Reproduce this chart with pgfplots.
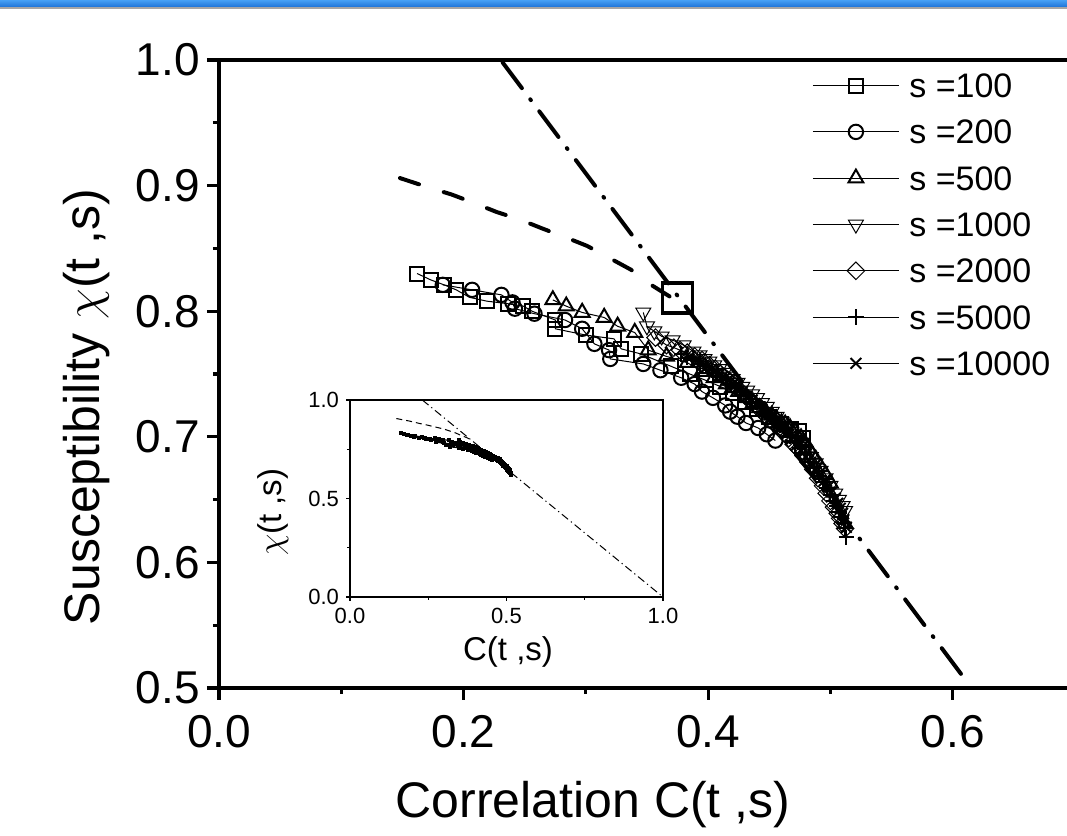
\documentclass[border=0pt]{standalone}
\usepackage{pgfplots}
\pgfplotsset{compat=1.18}
\usepackage{pgfplotstable}
\usepackage{fontspec}
\setmainfont{Liberation Sans}

\pgfplotstableread{
C chi
0.162 0.830
0.173 0.825
0.184 0.821
0.194 0.817
0.205 0.811
0.219 0.808
0.236 0.806
0.249 0.804
0.256 0.800
0.275 0.793
0.275 0.786
0.300 0.781
0.323 0.778
0.329 0.770
0.345 0.766
0.370 0.756
0.385 0.750
0.398 0.745
0.410 0.740
0.420 0.735
0.430 0.728
0.440 0.722
0.450 0.716
0.460 0.710
0.468 0.706
0.474 0.705
0.478 0.699
0.477 0.692
}\sA

\pgfplotstableread{
C chi
0.183 0.821
0.207 0.817
0.231 0.813
0.240 0.807
0.242 0.802
0.258 0.798
0.283 0.793
0.297 0.786
0.307 0.774
0.319 0.769
0.320 0.762
0.347 0.758
0.361 0.753
0.378 0.747
0.389 0.742
0.395 0.736
0.404 0.731
0.414 0.725
0.418 0.720
0.424 0.716
0.431 0.711
0.441 0.707
0.448 0.702
0.455 0.697
}\sB

\pgfplotstableread{
C chi
0.273 0.809
0.284 0.804
0.297 0.799
0.315 0.795
0.326 0.788
0.340 0.783
0.351 0.769
0.366 0.764
0.383 0.759
0.395 0.752
0.405 0.747
0.415 0.742
0.420 0.739
0.425 0.736
0.431 0.731
0.437 0.727
0.442 0.723
0.447 0.720
0.452 0.717
0.456 0.714
0.460 0.711
0.463 0.710
0.467 0.707
0.471 0.704
0.476 0.699
0.479 0.695
0.482 0.691
0.485 0.686
0.488 0.682
0.492 0.676
0.496 0.670
0.500 0.663
}\sC

\pgfplotstableread{
C chi
0.347 0.799
0.350 0.788
0.356 0.784
0.362 0.780
0.371 0.777
0.380 0.773
0.388 0.768
0.393 0.765
0.397 0.762
0.401 0.760
0.405 0.757
0.409 0.754
0.413 0.751
0.417 0.748
0.420 0.746
0.424 0.743
0.428 0.740
0.432 0.737
0.436 0.734
0.440 0.731
0.444 0.727
0.448 0.724
0.452 0.720
0.456 0.716
0.460 0.712
0.464 0.708
0.468 0.704
0.472 0.699
0.476 0.694
0.480 0.689
0.484 0.684
0.488 0.679
0.492 0.673
0.496 0.667
0.500 0.661
0.504 0.655
0.507 0.650
0.510 0.645
0.512 0.641
}\sD

\pgfplotstableread{
C chi
0.357 0.779
0.366 0.773
0.372 0.771
0.377 0.769
0.383 0.767
0.389 0.764
0.395 0.761
0.401 0.757
0.406 0.754
0.410 0.750
0.414 0.747
0.418 0.744
0.422 0.740
0.426 0.737
0.430 0.733
0.434 0.729
0.438 0.726
0.442 0.722
0.446 0.718
0.450 0.714
0.454 0.711
0.458 0.707
0.462 0.703
0.466 0.699
0.470 0.694
0.474 0.690
0.478 0.685
0.482 0.680
0.486 0.674
0.490 0.667
0.494 0.661
0.497 0.655
0.500 0.649
0.503 0.644
0.506 0.639
0.508 0.635
0.510 0.631
0.512 0.627
}\sE

\pgfplotstableread{
C chi
0.378 0.766
0.383 0.763
0.388 0.761
0.393 0.758
0.398 0.756
0.403 0.753
0.407 0.751
0.411 0.748
0.415 0.745
0.419 0.742
0.423 0.739
0.427 0.736
0.431 0.733
0.435 0.730
0.439 0.727
0.443 0.723
0.447 0.720
0.451 0.716
0.455 0.713
0.459 0.709
0.463 0.705
0.467 0.700
0.471 0.696
0.475 0.691
0.479 0.686
0.483 0.680
0.487 0.675
0.491 0.669
0.494 0.664
0.497 0.659
0.500 0.654
0.503 0.649
0.505 0.645
0.507 0.640
0.509 0.636
0.511 0.631
0.512 0.627
0.513 0.620
}\sF

\pgfplotstableread{
C chi
0.385 0.764
0.390 0.761
0.394 0.759
0.399 0.756
0.403 0.754
0.408 0.751
0.412 0.748
0.416 0.745
0.420 0.742
0.424 0.739
0.428 0.736
0.432 0.732
0.436 0.729
0.440 0.725
0.444 0.722
0.448 0.718
0.452 0.715
0.456 0.711
0.460 0.707
0.464 0.702
0.468 0.698
0.472 0.693
0.476 0.689
0.480 0.684
0.484 0.679
0.488 0.674
0.491 0.669
0.495 0.665
0.498 0.660
0.501 0.656
0.504 0.651
0.506 0.647
0.508 0.643
0.510 0.639
0.511 0.634
0.513 0.628
}\sG

\pgfplotstableread{
C chi
0.148 0.906
0.173 0.898
0.190 0.893
0.209 0.886
0.227 0.879
0.246 0.873
0.264 0.866
0.283 0.859
0.301 0.852
0.320 0.842
0.337 0.833
0.355 0.820
0.373 0.809
0.380 0.803
}\fitdash

\pgfplotstableread{
C chi
0.232 0.998
0.607 0.511
}\fdtmain

\pgfplotstableread{
C chi
0.231 1.000
1.000 0.000
}\fdtinset

\pgfplotsset{
  ser/.style={black, line width=0.5pt, mark options={solid, line width=1pt, fill=none}},
}

\begin{document}
\begin{tikzpicture}
\path[use as bounding box] (0pt,0pt) rectangle (533.5pt,418pt);
\clip (0pt,0pt) rectangle (533.5pt,418pt);
\shade[top color={rgb,255:red,70;green,160;blue,245}, bottom color={rgb,255:red,30;green,115;blue,215}] (0pt,414.5pt) rectangle (533.5pt,418pt);
\fill[black!35] (0pt,413.6pt) rectangle (533.5pt,414.5pt);

\begin{axis}[
  at={(109.5pt,74pt)}, anchor=south west, scale only axis,
  width=424pt, height=314pt,
  xmin=0, xmax=0.6935, ymin=0.5, ymax=1.0,
  clip=false,
  axis lines=left, axis line style={-, line width=2pt, black},
  xtick={0,0.2,0.4,0.6}, minor xtick={0.1,0.3,0.5},
  ytick={0.5,0.6,0.7,0.8,0.9,1.0}, minor ytick={0.55,0.65,0.75,0.85,0.95},
  tick align=outside, major tick length=6pt, minor tick length=3pt,
  every tick/.style={black, line width=1.6pt},
  /pgf/number format/assume math mode=true,
  /pgf/number format/fixed, /pgf/number format/fixed zerofill, /pgf/number format/precision=1,
  tick label style={font=\fontsize{23}{23}\selectfont},
  xticklabel style={yshift=-4pt},
  xlabel={Correlation C(t ,s)},
  ylabel={Susceptibility $\chi$(t ,s)},
  every axis x label/.style={at={(rel axis cs:0.441,0)}, yshift=-58.5pt, anchor=center, font=\fontsize{25}{25}\selectfont},
  every axis y label/.style={at={(rel axis cs:0,0.4475)}, xshift=-66pt, rotate=90, anchor=center, font=\fontsize{25}{25}\selectfont},
  legend style={draw=none, fill=none, at={(rel axis cs:0.6993,0.979)}, anchor=north west,
    inner sep=0pt, row sep=11.15pt, column sep=5pt, font=\fontsize{17}{17}\selectfont,
    nodes={inner sep=0pt, text height=12pt, text depth=0pt}},
  legend cell align=left,
  legend image code/.code={\draw[mark repeat=2,mark phase=2,#1] plot coordinates {(0pt,0pt) (21.5pt,0pt) (43pt,0pt)};},
]
\draw[line width=2pt] (rel axis cs:0,1) -- (rel axis cs:1,1);

\addplot[forget plot, black, line width=2pt, line cap=round, dash pattern=on 16pt off 7pt on 0.5pt off 7pt] table[x=C,y=chi] {\fdtmain};
\addplot[forget plot, black, line width=2pt, line cap=round, dash pattern=on 10pt off 13pt] table[x=C,y=chi] {\fitdash};
\addplot[forget plot, only marks, black, mark=square, mark size=7.5pt, mark options={line width=1.6pt}] coordinates {(0.375,0.8105)};

\addplot[ser, mark=square, mark size=3.5pt] table[x=C,y=chi] {\sA};
\addlegendentry{s =100}
\addplot[ser, mark=o, mark size=3.6pt] table[x=C,y=chi] {\sB};
\addlegendentry{s =200}
\addplot[ser, mark=triangle, mark size=4.3pt] table[x=C,y=chi] {\sC};
\addlegendentry{s =500}
\addplot[ser, mark=triangle, mark size=4.3pt, mark options={rotate=180}] table[x=C,y=chi] {\sD};
\addlegendentry{s =1000}
\addplot[ser, mark=square, mark size=3.1pt, mark options={rotate=45}] table[x=C,y=chi] {\sE};
\addlegendentry{s =2000}
\addplot[ser, mark=+, mark size=3.8pt] table[x=C,y=chi] {\sF};
\addlegendentry{s =5000}
\addplot[ser, mark=x, mark size=3.8pt] table[x=C,y=chi] {\sG};
\addlegendentry{s =10000}
\end{axis}

\begin{axis}[
  at={(175pt,119.5pt)}, anchor=south west, scale only axis,
  width=156.5pt, height=98.5pt,
  xmin=0, xmax=1, ymin=0, ymax=1,
  axis line style={line width=0.7pt, black},
  xtick={0,0.5,1}, minor xtick={0.25,0.75},
  ytick={0,0.5,1}, minor ytick={0.25,0.75},
  tick pos=left, tick align=outside, major tick length=2pt, minor tick length=1.5pt,
  every tick/.style={black, line width=0.6pt},
  /pgf/number format/assume math mode=true,
  /pgf/number format/fixed, /pgf/number format/fixed zerofill, /pgf/number format/precision=1,
  tick label style={font=\fontsize{11}{11}\selectfont},
  xlabel={C(t ,s)},
  ylabel={$\chi$(t ,s)},
  every axis x label/.style={at={(rel axis cs:0.505,0)}, yshift=-27.5pt, anchor=center, font=\fontsize{16.5}{16.5}\selectfont},
  every axis y label/.style={at={(rel axis cs:0,0.43)}, xshift=-38.5pt, rotate=90, anchor=center, font=\fontsize{16.5}{16.5}\selectfont},
]
\addplot[black, line width=0.5pt, dash pattern=on 4pt off 1.8pt on 0.6pt off 1.8pt] table[x=C,y=chi] {\fdtinset};
\addplot[black, line width=0.5pt, dash pattern=on 3pt off 2pt] table[x=C,y=chi] {\fitdash};
\addplot[black, line width=0.6pt, mark=square*, mark size=0.7pt] table[x=C,y=chi] {\sA};
\addplot[black, line width=0.6pt, mark=square*, mark size=0.7pt] table[x=C,y=chi] {\sB};
\addplot[black, line width=0.6pt, mark=square*, mark size=0.7pt] table[x=C,y=chi] {\sC};
\addplot[black, line width=0.6pt, mark=square*, mark size=0.7pt] table[x=C,y=chi] {\sD};
\addplot[black, line width=0.6pt, mark=square*, mark size=0.7pt] table[x=C,y=chi] {\sE};
\addplot[black, line width=0.6pt, mark=square*, mark size=0.7pt] table[x=C,y=chi] {\sF};
\addplot[black, line width=0.6pt, mark=square*, mark size=0.7pt] table[x=C,y=chi] {\sG};
\end{axis}
\end{tikzpicture}
\end{document}
